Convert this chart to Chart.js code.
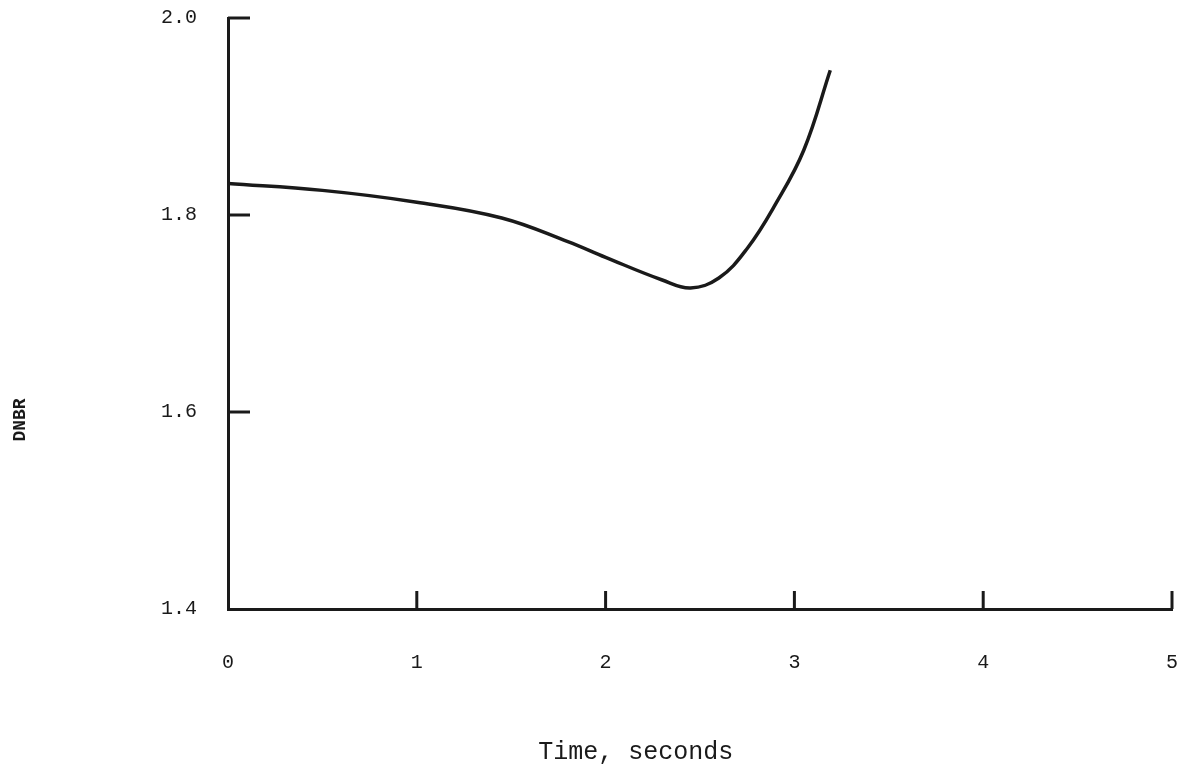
<!DOCTYPE html>
<html>
<head>
<meta charset="utf-8">
<script src="https://cdn.jsdelivr.net/npm/chart.js@4"></script>
<style>
  html, body { margin: 0; padding: 0; background: #fff; }
  #wrap { width: 1179px; height: 778px; position: relative; }
</style>
</head>
<body>
<div id="wrap"><canvas id="chart"></canvas></div>
<script>
// time in seconds
const timeValues = [0, 0.5, 1.0, 1.45, 1.8, 2.0, 2.3, 2.45, 2.6, 2.75, 2.9, 3.05, 3.19];
const dnbrValues = [1.832, 1.825, 1.813, 1.797, 1.773, 1.757, 1.734, 1.726, 1.736, 1.766, 1.811, 1.866, 1.947];

const xTicks = [0, 1, 2, 3, 4, 5];
const yTicks = [1.4, 1.6, 1.8, 2.0];

const ink = '#1a1a1a';
const typeFont = "'Liberation Mono', 'DejaVu Sans Mono', monospace";

// short tick marks drawn inward from the axes, like the original plot,
// plus the two axis titles which sit off-centre in the scan
const inwardTicks = {
  id: 'inwardTicks',
  afterDatasetsDraw(chart) {
    const { ctx, scales: { x, y } } = chart;
    ctx.save();
    ctx.strokeStyle = ink;
    ctx.lineWidth = 3;
    yTicks.slice(1).forEach(v => {
      const py = y.getPixelForValue(v);
      ctx.beginPath();
      ctx.moveTo(x.left, py);
      ctx.lineTo(x.left + 22, py);
      ctx.stroke();
    });
    xTicks.slice(1).forEach(v => {
      const px = x.getPixelForValue(v);
      ctx.beginPath();
      ctx.moveTo(px, y.bottom);
      ctx.lineTo(px, y.bottom - 18);
      ctx.stroke();
    });
    ctx.fillStyle = ink;
    ctx.textAlign = 'center';
    ctx.textBaseline = 'middle';
    ctx.font = '25px ' + typeFont;
    ctx.fillText('Time, seconds', x.getPixelForValue(2.16), 752);
    ctx.font = 'bold 18px ' + typeFont;
    ctx.translate(20, 420);
    ctx.rotate(-Math.PI / 2);
    ctx.fillText('DNBR', 0, 0);
    ctx.restore();
  }
};

new Chart(document.getElementById('chart'), {
  type: 'line',
  data: {
    datasets: [{
      data: timeValues.map((t, i) => ({ x: t, y: dnbrValues[i] })),
      borderColor: ink,
      borderWidth: 3.5,
      pointRadius: 0,
      fill: false,
      tension: 0.4
    }]
  },
  options: {
    responsive: true,
    maintainAspectRatio: false,
    animation: false,
    layout: { padding: { left: 0, right: 7, top: 18, bottom: 0 } },
    plugins: { legend: { display: false }, tooltip: { enabled: false } },
    scales: {
      x: {
        type: 'linear',
        min: 0,
        max: 5,
        afterFit(scale) {
          scale.height = 169;
          scale.paddingLeft = 0;
          scale.paddingRight = 0;
        },
        grid: { drawOnChartArea: false, drawTicks: false },
        border: { display: true, color: ink, width: 3 },
        ticks: {
          stepSize: 1,
          padding: 42,
          maxRotation: 0,
          color: ink,
          font: { family: typeFont, size: 20 }
        }
      },
      y: {
        min: 1.4,
        max: 2.0,
        afterFit(scale) {
          scale.width = 228;
          scale.paddingTop = 0;
          scale.paddingBottom = 0;
        },
        grid: { drawOnChartArea: false, drawTicks: false },
        border: { display: true, color: ink, width: 3 },
        ticks: {
          stepSize: 0.2,
          padding: 31,
          color: ink,
          font: { family: typeFont, size: 20 },
          callback: v => Number(v).toFixed(1)
        }
      }
    }
  },
  plugins: [inwardTicks]
});
</script>
</body>
</html>
